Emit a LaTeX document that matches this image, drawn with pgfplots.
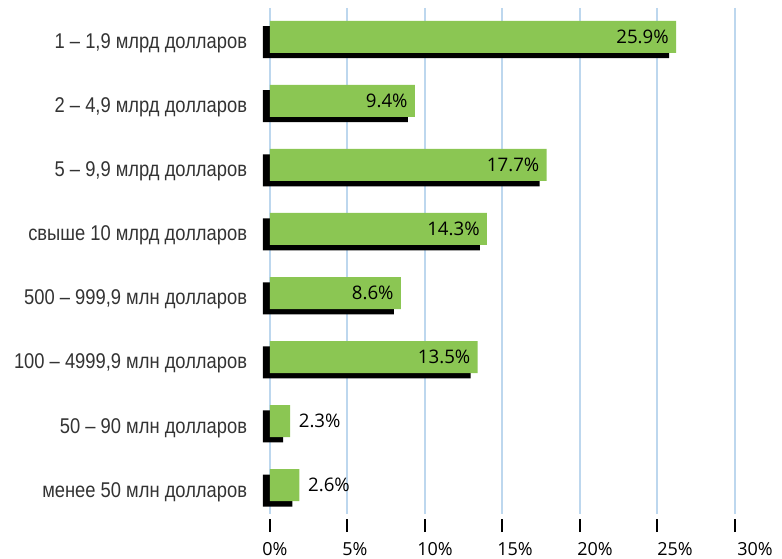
\documentclass[border=0pt]{standalone}
\usepackage{pgfplots}
\pgfplotsset{compat=1.18}
\usepackage{fontspec}
\setmainfont{Open Sans}
\newfontfamily\catfont[FakeStretch=0.86]{Liberation Sans}
\definecolor{barg}{HTML}{8BC653}
\definecolor{gridb}{HTML}{BDD7EE}
\definecolor{catgray}{HTML}{333333}
\pgfplotstableread{
y x lab
0 26.2 25.9
1 9.35 9.4
2 17.85 17.7
3 14.0 14.3
4 8.45 8.6
5 13.4 13.5
}\inside
\pgfplotstableread{
y x lab
6 1.3 2.3
7 1.9 2.6
}\outside
\begin{document}
\begin{tikzpicture}
\begin{axis}[
  name=ax,
  scale only axis,
  width=348.75pt, height=379.5pt,
  xmin=0, xmax=30, ymin=-0.45, ymax=7.45,
  y dir=reverse,
  clip=false,
  axis line style={draw=none},
  xtick={0,5,...,30},
  xtick pos=bottom,
  xticklabel={\pgfmathprintnumber{\tick}\%},
  /pgf/number format/assume math mode=true,
  tick label style={font=\fontsize{13.5}{15}\selectfont},
  xmajorgrids,
  grid style={gridb, line width=1.5pt},
  x tick style={black, line width=1.5pt, yshift=-3.5pt},
  xtick align=outside,
  major tick length=10pt,
  x tick label style={yshift=-8pt, xshift=\ticknum*1.875pt+3.75pt},
  ytick={0,...,7},
  yticklabels={{1 – 1,9 млрд долларов},{2 – 4,9 млрд долларов},{5 – 9,9 млрд долларов},{свыше 10 млрд долларов},{500 – 999,9 млн долларов},{100 – 4999,9 млн долларов},{50 – 90 млн долларов},{менее 50 млн долларов}},
  y tick label style={font=\catfont\fontsize{16}{18}\selectfont, text=catgray, inner sep=0pt, xshift=-7pt, yshift=-5pt},
  y tick style={draw=none},
  xbar, bar width=24pt, bar shift=0pt,
]
% shadows
\addplot[fill=black, draw=none, xshift=-5.25pt, yshift=-4pt] table[x=x,y=y] {\inside};
\addplot[fill=black, draw=none, xshift=-5.25pt, yshift=-4pt] table[x=x,y=y] {\outside};
% green bars
\addplot[fill=barg, draw=none,
  point meta=explicit symbolic,
  nodes near coords={\pgfplotspointmeta\%},
  every node near coord/.style={anchor=east, xshift=-2pt, font=\fontsize{14}{16}\selectfont, text=black}
] table[x=x,y=y,meta=lab] {\inside};
\addplot[fill=barg, draw=none,
  point meta=explicit symbolic,
  nodes near coords={\pgfplotspointmeta\%},
  every node near coord/.style={anchor=west, xshift=3pt, font=\fontsize{14}{16}\selectfont, text=black}
] table[x=x,y=y,meta=lab] {\outside};
\end{axis}
\pgfresetboundingbox
\path ([shift={(-202.5pt,-33.75pt)}]ax.south west) rectangle ([shift={(35.25pt,6pt)}]ax.north east);
\end{tikzpicture}
\end{document}
